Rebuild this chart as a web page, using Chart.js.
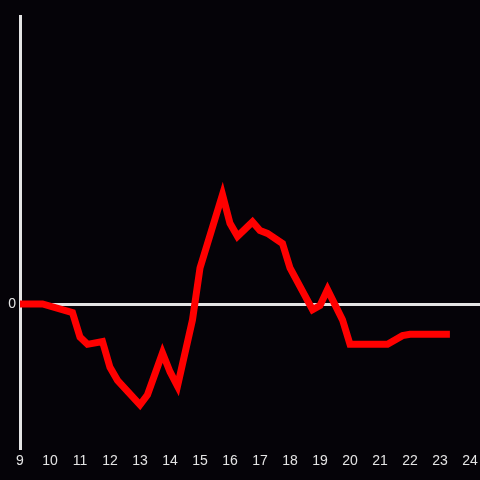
<!DOCTYPE html>
<html>
<head>
<meta charset="utf-8">
<script src="https://cdn.jsdelivr.net/npm/chart.js@4/dist/chart.umd.min.js"></script>
<style>
  html, body { margin: 0; padding: 0; background: #050308; }
  canvas { display: block; }
</style>
</head>
<body>
<canvas id="c" width="480" height="480"></canvas>
<script>
// hour of day and value
const hours = [9, 9.75, 10.75, 11, 11.25, 11.75, 12, 12.25, 13, 13.25, 13.75, 14, 14.25, 14.75,
  15, 15.25, 15.75, 16, 16.25, 16.75, 17, 17.25, 17.75, 18, 18.75, 19, 19.25, 19.75, 20,
  21.25, 21.75, 22, 23.33];
const values = [0, 0, -0.06, -0.23, -0.28, -0.26, -0.44, -0.53, -0.70, -0.63, -0.34, -0.47, -0.57, -0.11,
  0.25, 0.42, 0.76, 0.56, 0.47, 0.57, 0.51, 0.49, 0.42, 0.25, -0.04, -0.01, 0.10, -0.11, -0.28,
  -0.28, -0.22, -0.21, -0.21];
const xTicks = [9, 10, 11, 12, 13, 14, 15, 16, 17, 18, 19, 20, 21, 22, 23, 24];
const yTicks = [0];

const axisColor = '#e4e4e4';
const font = { family: 'Liberation Sans, Arial, sans-serif', size: 14 };

new Chart(document.getElementById('c'), {
  type: 'line',
  data: {
    datasets: [{
      data: hours.map((h, i) => ({ x: h, y: values[i] })),
      borderColor: '#ff0000',
      borderWidth: 7,
      pointRadius: 0,
      tension: 0,
      fill: false
    }]
  },
  options: {
    responsive: false,
    animation: false,
    layout: { padding: { top: 16, left: 0, right: 0, bottom: 0 } },
    plugins: { legend: { display: false }, tooltip: { enabled: false } },
    scales: {
      x: {
        type: 'linear',
        min: 9,
        max: 9 + 460 / 30,
        afterBuildTicks: s => { s.ticks = xTicks.map(v => ({ value: v })); },
        afterFit: s => { s.height = 32; s.paddingLeft = 0; s.paddingRight = 0; },
        grid: { display: false, drawTicks: false },
        border: { display: false },
        ticks: { color: axisColor, font, padding: 5, maxRotation: 0, autoSkip: false }
      },
      y: {
        min: -1,
        max: 2,
        afterBuildTicks: s => { s.ticks = yTicks.map(v => ({ value: v })); },
        afterFit: s => { s.width = 20; s.paddingTop = 0; s.paddingBottom = 0; },
        grid: {
          drawTicks: false,
          lineWidth: 3,
          color: ctx => (ctx.tick && ctx.tick.value === 0 ? axisColor : 'rgba(0,0,0,0)')
        },
        border: { display: true, color: axisColor, width: 3 },
        ticks: { color: axisColor, font, padding: 4 }
      }
    }
  }
});
</script>
</body>
</html>
